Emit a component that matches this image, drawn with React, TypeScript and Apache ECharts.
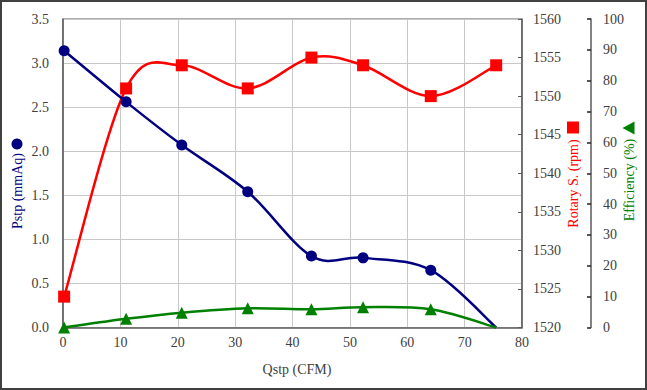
import React, { useEffect, useRef } from "react";
import * as echarts from "echarts";

const qstp = [0.2, 11.0, 20.7, 32.2, 43.3, 52.3, 64.1, 75.5];
const pstp = [3.14, 2.56, 2.07, 1.54, 0.81, 0.79, 0.65, 0];
const rpm = [1524, 1551, 1554, 1551, 1555, 1554, 1550, 1554];
const eff = [0, 2.8, 4.8, 6.2, 5.9, 6.6, 5.9, 0];

const FONT = "Liberation Serif";
const LABEL = "#404040";
const AXIS = "#5a5a5a";
const GRIDC = "#c8c8c8";
const RED = "#ff0000";
const NAVY = "#000080";
const GREEN = "#008000";

function curveSeries(ys: number[], axis: number, color: string) {
  return {
    type: "custom",
    yAxisIndex: axis,
    data: qstp.map((x, i) => [x, ys[i]]),
    encode: { x: 0, y: 1 },
    silent: true,
    renderItem: (params: any, api: any) => {
      const i = params.dataIndex;
      const n = params.dataInsideLength;
      if (i >= n - 1) return { type: "group", children: [] };
      const pt = (k: number) => api.coord([api.value(0, k), api.value(1, k)]);
      const p0 = pt(Math.max(i - 1, 0));
      const p1 = pt(i);
      const p2 = pt(i + 1);
      const p3 = pt(Math.min(i + 2, n - 1));
      return {
        type: "bezierCurve",
        shape: {
          x1: p1[0],
          y1: p1[1],
          x2: p2[0],
          y2: p2[1],
          cpx1: p1[0] + (p2[0] - p0[0]) / 6,
          cpy1: p1[1] + (p2[1] - p0[1]) / 6,
          cpx2: p2[0] - (p3[0] - p1[0]) / 6,
          cpy2: p2[1] - (p3[1] - p1[1]) / 6,
        },
        style: { stroke: color, lineWidth: 2.5, fill: null },
      };
    },
  };
}

function markerSeries(ys: number[], axis: number, color: string, symbol: string, size: number, hideLast: boolean) {
  return {
    type: "scatter",
    yAxisIndex: axis,
    symbol,
    symbolSize: size,
    itemStyle: { color, opacity: 1 },
    data: qstp.map((x, i) =>
      hideLast && i === qstp.length - 1 ? { value: [x, ys[i]], symbolSize: 0 } : { value: [x, ys[i]] }
    ),
  };
}

export default function App() {
  const ref = useRef<HTMLDivElement>(null);
  useEffect(() => {
    if (!ref.current) return;
    const chart = echarts.init(ref.current, undefined, { renderer: "svg" });
    const txt = { fontFamily: FONT, fontSize: 14 };
    chart.setOption({
      animation: false,
      backgroundColor: "#ffffff",
      textStyle: { fontFamily: FONT },
      grid: { left: 63, right: 125, top: 19, bottom: 62.5, show: true, borderColor: AXIS, borderWidth: 1 },
      xAxis: {
        type: "value",
        min: 0,
        max: 80,
        interval: 10,
        axisLine: { show: true, lineStyle: { color: AXIS, width: 1.5 } },
        axisTick: { show: false },
        axisLabel: { color: LABEL, ...txt, margin: 8 },
        splitLine: { show: true, lineStyle: { color: GRIDC, width: 1 } },
      },
      yAxis: [
        {
          type: "value",
          min: 0,
          max: 3.5,
          interval: 0.5,
          position: "left",
          axisLine: { show: true, lineStyle: { color: AXIS, width: 1.5 } },
          axisTick: { show: false },
          axisLabel: { color: LABEL, ...txt, margin: 14, formatter: (v: number) => v.toFixed(1) },
          splitLine: { show: true, lineStyle: { color: GRIDC, width: 1 } },
        },
        {
          type: "value",
          min: 1520,
          max: 1560,
          interval: 5,
          position: "right",
          axisLine: { show: true, lineStyle: { color: AXIS, width: 1.5 } },
          axisTick: { show: true, inside: true, length: 4, lineStyle: { color: AXIS } },
          axisLabel: { color: LABEL, ...txt, margin: 11, formatter: (v: number) => String(v) },
          splitLine: { show: false },
        },
        {
          type: "value",
          min: 0,
          max: 100,
          interval: 10,
          position: "right",
          offset: 69,
          axisLine: { show: true, lineStyle: { color: AXIS, width: 1.5 } },
          axisTick: { show: true, inside: true, length: 4, lineStyle: { color: "#222", width: 1.5 } },
          axisLabel: { color: LABEL, ...txt, margin: 12, formatter: (v: number) => String(v) },
          splitLine: { show: false },
        },
      ],
      series: [
        curveSeries(rpm, 1, RED),
        markerSeries(rpm, 1, RED, "rect", 12, false),
        curveSeries(pstp, 0, NAVY),
        markerSeries(pstp, 0, NAVY, "circle", 11, true),
        curveSeries(eff, 2, GREEN),
        markerSeries(eff, 2, GREEN, "triangle", 12, true),
      ],
      graphic: [
        { type: "rect", shape: { x: 1, y: 1, width: 645, height: 388 }, style: { fill: "none", stroke: "#404040", lineWidth: 2 } },
        { type: "text", x: 297, y: 369, style: { text: "Qstp (CFM)", fill: LABEL, fontFamily: FONT, fontSize: 14, align: "center", verticalAlign: "middle" } },
        { type: "text", x: 17, y: 191, rotation: Math.PI / 2, style: { text: "Pstp (mmAq)", fill: NAVY, fontFamily: FONT, fontSize: 14, align: "center", verticalAlign: "middle" } },
        { type: "circle", shape: { cx: 17, cy: 144, r: 5.5 }, style: { fill: NAVY } },
        { type: "text", x: 573, y: 183.5, rotation: Math.PI / 2, style: { text: "Rotary S. (rpm)", fill: RED, fontFamily: FONT, fontSize: 14, align: "center", verticalAlign: "middle" } },
        { type: "rect", shape: { x: 567, y: 121.5, width: 12, height: 12 }, style: { fill: RED } },
        { type: "text", x: 629, y: 180, rotation: Math.PI / 2, style: { text: "Efficiency (%)", fill: GREEN, fontFamily: FONT, fontSize: 14, align: "center", verticalAlign: "middle" } },
        { type: "polygon", shape: { points: [[622.5, 128], [634.5, 121.5], [634.5, 134.5]] }, style: { fill: GREEN } },
      ],
    });
    return () => chart.dispose();
  }, []);
  return <div ref={ref} style={{ position: "absolute", left: 0, top: 0, width: 647, height: 390, background: "#fff" }} />;
}
